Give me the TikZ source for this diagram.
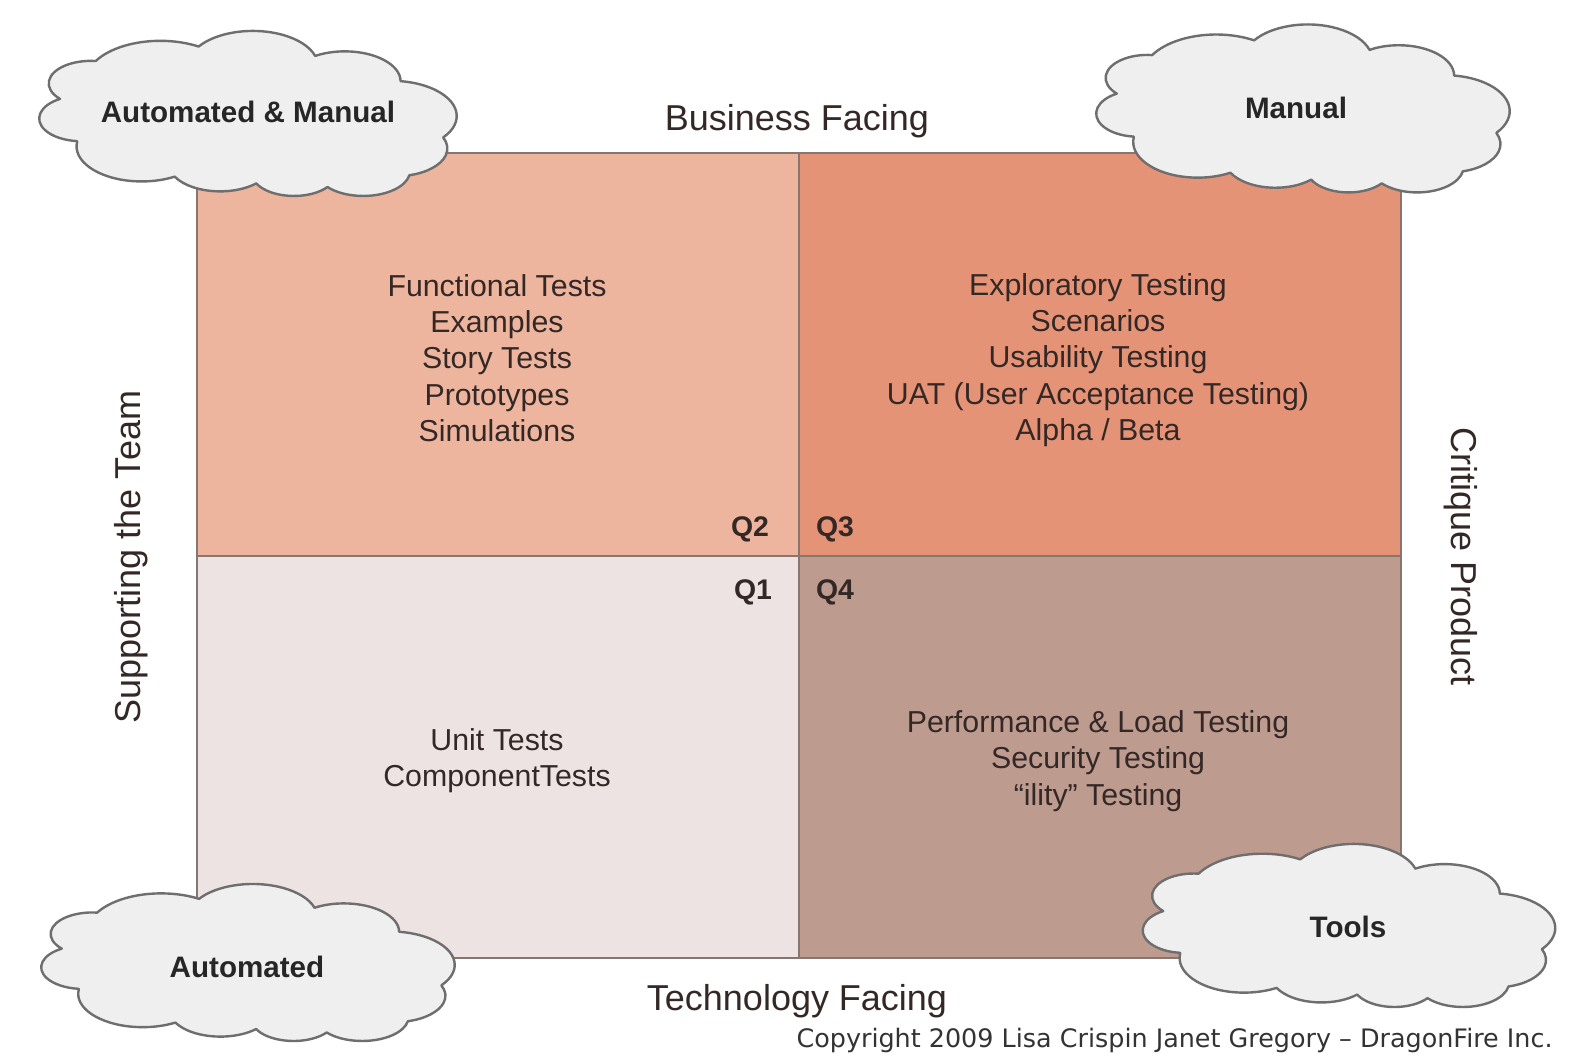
\documentclass[tikz,border=0pt]{standalone}
\usepackage{fontspec}
\setmainfont{Liberation Sans}
\newfontfamily\notefont{DejaVu Sans}

\definecolor{qtwo}{RGB}{237,180,158}
\definecolor{qthree}{RGB}{229,147,119}
\definecolor{qone}{RGB}{236,227,226}
\definecolor{qfour}{RGB}{190,155,143}
\definecolor{edgecol}{RGB}{135,118,112}
\definecolor{txt}{RGB}{52,40,38}
\definecolor{cloudfill}{RGB}{239,239,240}
\definecolor{cloudline}{RGB}{110,110,110}

% A scalloped cloud outline built from eleven elliptical arcs on a
% 432 x 432 grid; the two arguments are the x and y unit lengths.
\tikzset{
  cloudline/.style={draw=cloudline, fill=cloudfill, line width=1.2pt, line join=round},
  pics/cloudblob/.style 2 args={code={
    \begin{scope}[x=#1, y=#2, shift={(-216,-216)}]
      \path[cloudline] (39.00,143.70)
        arc[start angle=-187.74, end angle=-59.61, x radius=67.53, y radius=91.90]
        arc[start angle=-152.02, end angle=-45.46, x radius=53.33, y radius=72.67]
        arc[start angle=-153.49, end angle=-37.33, x radius=43.65, y radius=59.45]
        arc[start angle=-139.81, end angle=-10.18, x radius=48.57, y radius=65.95]
        arc[start angle=-74.78, end angle=23.23, x radius=53.33, y radius=72.73]
        arc[start angle=-37.50, end angle=81.85, x radius=67.75, y radius=92.20]
        arc[start angle=0.46, end angle=122.02, x radius=57.85, y radius=78.67]
        arc[start angle=16.87, end angle=146.18, x radius=67.52, y radius=92.15]
        arc[start angle=59.05, end angle=150.14, x radius=77.20, y radius=105.43]
        arc[start angle=83.28, end angle=223.00, x radius=43.60, y radius=59.18]
        arc[start angle=120.25, end angle=264.14, x radius=43.45, y radius=59.45]
        -- cycle;
    \end{scope}
  }}
}

\begin{document}
\begin{tikzpicture}[x=0.5pt,y=-0.5pt,
  quadline/.style={draw=edgecol, line width=1pt},
  item/.style={align=center, text=txt, font=\fontsize{15.15}{18.15}\selectfont},
  qlabel/.style={text=txt, font=\bfseries\fontsize{14.2}{17}\selectfont},
  axislabel/.style={text=txt, font=\fontsize{18}{21}\selectfont},
  cloudtext/.style={text=black!85, font=\bfseries\fontsize{14.8}{17}\selectfont}]

  % page frame
  \useasboundingbox (0,0) rectangle (1580,1056);
  \fill[white] (0,0) rectangle (1580,1056);

  % corner coordinates of the quadrant grid
  \coordinate (tl) at (197,153);
  \coordinate (tm) at (799,153);
  \coordinate (tr) at (1401,153);
  \coordinate (ml) at (197,556);
  \coordinate (mm) at (799,556);
  \coordinate (mr) at (1401,556);
  \coordinate (bl) at (197,958);
  \coordinate (bm) at (799,958);
  \coordinate (br) at (1401,958);

  % quadrants
  \fill[qtwo]   (tl) rectangle (mm);
  \fill[qthree] (tm) rectangle (mr);
  \fill[qone]   (ml) rectangle (bm);
  \fill[qfour]  (mm) rectangle (br);
  \draw[quadline] (tl) rectangle (br);
  \draw[quadline] (tm) -- (bm);
  \draw[quadline] (ml) -- (mr);

  % quadrant contents
  \node[item] (q2text) at (497,358) {Functional Tests\\Examples\\Story Tests\\Prototypes\\Simulations};
  \node[item] (q3text) at (1098,360) {Exploratory Testing\\Scenarios\\Usability Testing\\UAT (User Acceptance Testing)\\Alpha / Beta};
  \node[item] (q1text) at (497,761) {Unit Tests\\ComponentTests};
  \node[item] (q4text) at (1098,761) {Performance \& Load Testing\\Security Testing\\“ility” Testing};

  % quadrant numbers
  \node[qlabel] (q2) at (750,529) {Q2};
  \node[qlabel] (q3) at (835,529) {Q3};
  \node[qlabel] (q1) at (753,592) {Q1};
  \node[qlabel] (q4) at (835,592) {Q4};

  % axis labels
  \node[axislabel] (business) at (797,121) {Business Facing};
  \node[axislabel] (technology) at (797,1001) {Technology Facing};
  \node[axislabel, rotate=90] (support) at (131,557) {Supporting the Team};
  \node[axislabel, rotate=-90] (critique) at (1461,557) {Critique Product};

  % corner clouds
  \pic at (248,114) {cloudblob={0.4826pt}{0.1910pt}};
  \node[cloudtext] (automan) at (248,112) {Automated \& Manual};
  \pic at (1303,109) {cloudblob={0.4780pt}{0.1944pt}};
  \node[cloudtext] (manual) at (1296,108) {Manual};
  \pic at (248,963) {cloudblob={0.4780pt}{0.1817pt}};
  \node[cloudtext] (automated) at (247,967) {Automated};
  \pic at (1349,926) {cloudblob={0.4769pt}{0.1887pt}};
  \node[cloudtext] (tools) at (1348,927) {Tools};

  % copyright line
  \node[anchor=east, inner sep=0pt, text=black!80] (copyright) at (1553,1040)
    {\resizebox{378pt}{!}{\notefont Copyright 2009 Lisa Crispin Janet Gregory – DragonFire Inc.}};
\end{tikzpicture}
\end{document}
